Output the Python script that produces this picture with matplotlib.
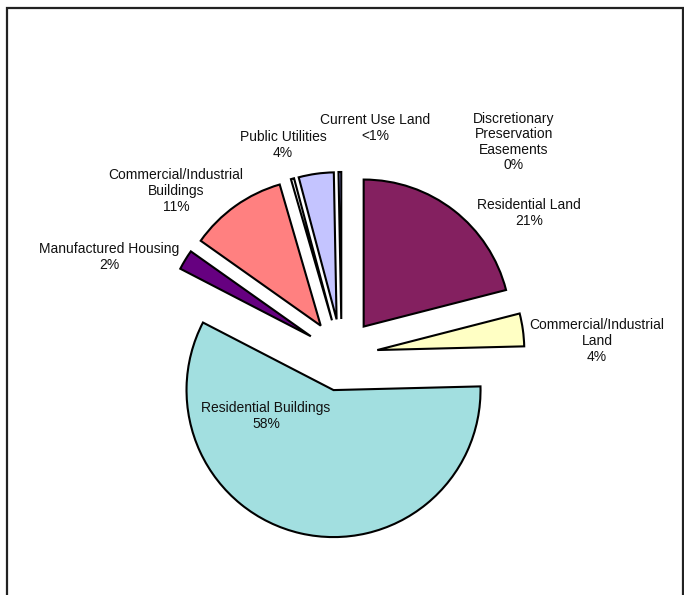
import matplotlib
matplotlib.use("Agg")
import matplotlib.pyplot as plt

plt.rcParams['font.family'] = ['Liberation Sans', 'DejaVu Sans']

# Assessed value shares, clockwise from 12 o'clock
categories = [
    "Residential Land",
    "Commercial/Industrial Land",
    "Residential Buildings",
    "Manufactured Housing",
    "Commercial/Industrial Buildings",
    "",
    "Public Utilities",
    "Current Use Land",
    "Discretionary Preservation Easements",
]
values = [21.0, 3.6, 58.0, 2.2, 10.7, 0.35, 3.85, 0.3, 0.0]
pct_labels = ["21%", "4%", "58%", "2%", "11%", "", "4%", "<1%", "0%"]
colors = ["#842060", "#FFFFC4", "#A2DFE0", "#660080", "#FF8080",
          "#FFFFFF", "#C4C4FF", "#9999FF", "#FFFFFF"]

# Wrapped label text and where each label sits (pixel coords, y downwards)
label_text = [
    "Residential Land",
    "Commercial/Industrial\nLand",
    "Residential Buildings",
    "Manufactured Housing",
    "Commercial/Industrial\nBuildings",
    "",
    "Public Utilities",
    "Current Use Land",
    "Discretionary\nPreservation\nEasements",
]
label_pos = [(529, 213), (597, 341), (266, 416), (109, 257), (176, 191),
             None, (283, 145), (375, 128), (514, 142)]

W, H = 684, 595
fig = plt.figure(figsize=(W / 100, H / 100), dpi=100)
ax = fig.add_axes([0, 0, 1, 1])

center = (341.6, H - 355)
radius = 147
explode_dist = 36

shown = [i for i, v in enumerate(values) if v > 0]
ax.pie([values[i] for i in shown],
       colors=[colors[i] for i in shown],
       explode=[explode_dist] * len(shown),
       startangle=90, counterclock=False,
       center=center, radius=radius, normalize=True,
       wedgeprops=dict(edgecolor="black", linewidth=1.5))

for txt, pct, pos in zip(label_text, pct_labels, label_pos):
    if pos is None:
        continue
    ax.text(pos[0], H - pos[1], f"{txt}\n{pct}", ha="center", va="center",
            fontsize=10, color="#111111", linespacing=1.15)

# Outer frame of the chart area
ax.plot([7, 7, 683, 683], [-10, H - 8, H - 8, -10], color="#222222",
        linewidth=1.6, clip_on=False, solid_joinstyle="miter")

ax.set_xlim(0, W)
ax.set_ylim(0, H)
ax.set_aspect("equal")
ax.axis("off")

fig.savefig("out.png", dpi=100, facecolor="white")
